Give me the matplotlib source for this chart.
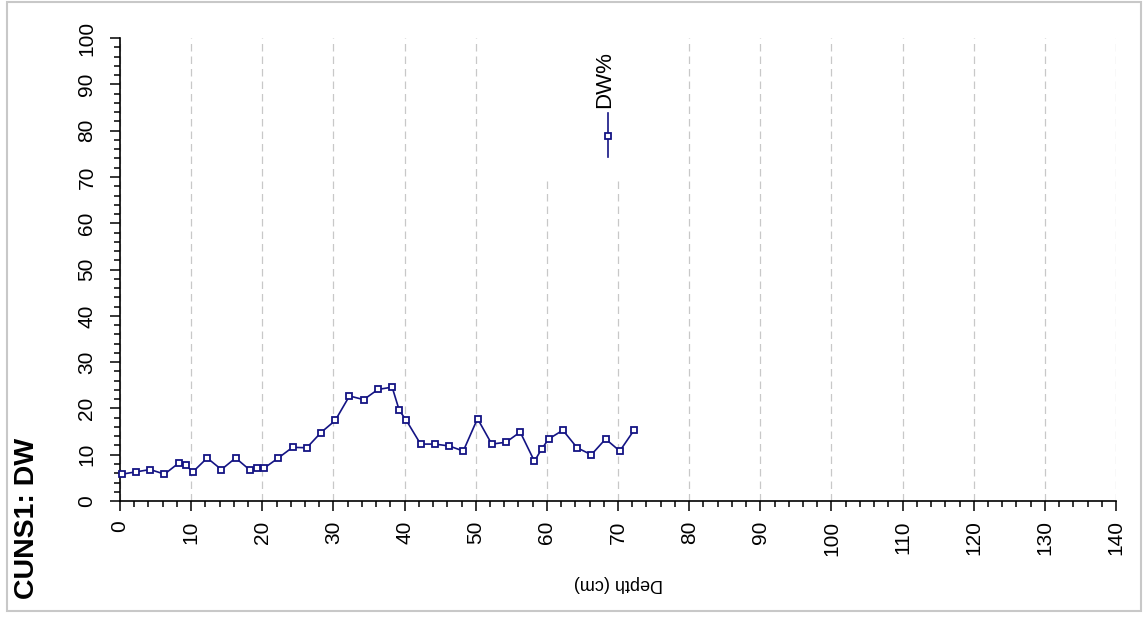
import matplotlib.pyplot as plt
import matplotlib as mpl
from matplotlib.lines import Line2D
from matplotlib.patches import Rectangle
import numpy as np

plt.rcParams['font.family'] = ['Liberation Sans', 'DejaVu Sans']

#%% data
depth = [0.25, 2.25, 4.25, 6.25, 8.25, 9.25, 10.25, 12.25, 14.25, 16.25,
         18.25, 19.25, 20.25, 22.25, 24.25, 26.25, 28.25, 30.25, 32.25, 34.25,
         36.25, 38.25, 39.25, 40.25, 42.25, 44.25, 46.25, 48.25, 50.25, 52.25,
         54.25, 56.25, 58.25, 59.25, 60.25, 62.25, 64.25, 66.25, 68.25, 70.25,
         72.25]
dw_pct = [5.8, 6.3, 6.8, 5.8, 8.2, 7.7, 6.3, 9.3, 6.8, 9.3,
          6.7, 7.1, 7.1, 9.3, 11.6, 11.5, 14.8, 17.4, 22.7, 21.9,
          24.1, 24.6, 19.6, 17.4, 12.3, 12.3, 11.9, 10.8, 17.8, 12.3,
          12.7, 14.9, 8.6, 11.2, 13.4, 15.3, 11.5, 10.0, 13.4, 10.8,
          15.3]
series_name = 'DW%'
title = 'CUNS1: DW'
xlabel = 'Depth (cm)'

navy = '#141484'

#%% figure
fig = plt.figure(figsize=(11.43, 6.19), dpi=100)
ax = fig.add_axes([0.105, 0.1906, 0.8714, 0.7478])

ax.plot(depth, dw_pct, color=navy, lw=1.2, marker='s', ms=5,
        mfc='white', mec=navy, mew=1.3, zorder=3, clip_on=False)

ax.set_xlim(0, 140)
ax.set_ylim(0, 100)
ax.xaxis.set_major_locator(mpl.ticker.MultipleLocator(10))
ax.xaxis.set_minor_locator(mpl.ticker.MultipleLocator(2))
ax.yaxis.set_major_locator(mpl.ticker.MultipleLocator(10))
ax.yaxis.set_minor_locator(mpl.ticker.MultipleLocator(2))

for s in ['top', 'right']:
    ax.spines[s].set_visible(False)
for s in ['left', 'bottom']:
    ax.spines[s].set_linewidth(1.2)

ax.tick_params(axis='both', which='major', length=7, width=1.1, labelsize=15)
ax.tick_params(axis='both', which='minor', length=4.5, width=1.1)
ax.tick_params(axis='y', which='major', pad=10, labelrotation=90)
ax.tick_params(axis='x', which='major', pad=7, labelrotation=90)
for lab in ax.get_yticklabels():
    lab.set_va('center')

ax.set_axisbelow(True)
ax.grid(axis='x', which='major', color='#c8c8c8', lw=0.9, ls=(0, (6, 4)))

ax.set_xlabel(xlabel, rotation=180, fontsize=13, va='center')
ax.xaxis.set_label_coords(0.5, -0.179)

# legend drawn by hand so it can be rotated like the reference
ax.add_patch(Rectangle((0.42, 0.70), 0.085, 0.32, transform=ax.transAxes,
                       facecolor='white', edgecolor='none', zorder=1.5, clip_on=False))
ax.add_line(Line2D([0.49, 0.49], [0.743, 0.838], transform=ax.transAxes,
                   color=navy, lw=1.2, zorder=4))
ax.add_line(Line2D([0.49], [0.788], transform=ax.transAxes, color=navy,
                   marker='s', ms=5, mfc='white', mec=navy, mew=1.3, zorder=5))
ax.text(0.487, 0.849, series_name, transform=ax.transAxes, rotation=90,
        ha='center', va='bottom', fontsize=16)

fig.text(27 / 1143, 1 - 518 / 619, title, rotation=90, ha='center', va='center',
         fontsize=20.5, fontweight='bold')

# light frame round the picture
fig.patches.append(Rectangle((7 / 1143, 8 / 619), 1134 / 1143, 609 / 619,
                             transform=fig.transFigure, fill=False,
                             edgecolor='#c8c8c8', lw=1.5))

plt.savefig('out.png', dpi=100)
plt.close()
